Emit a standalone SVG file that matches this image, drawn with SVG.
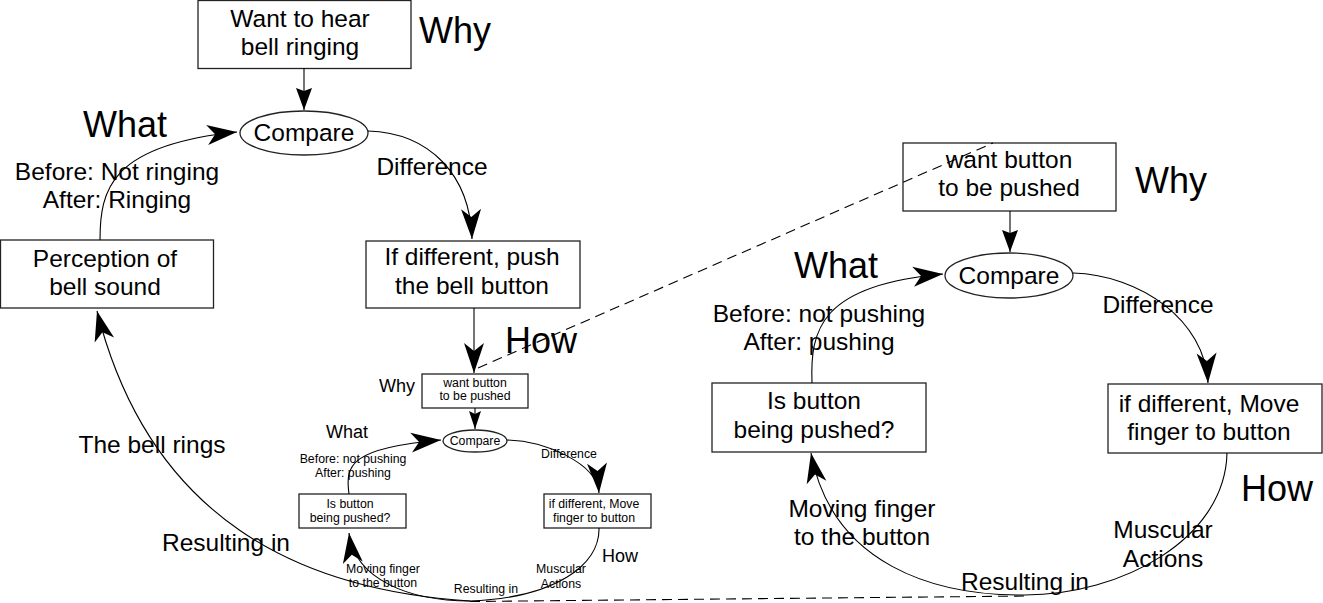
<svg xmlns="http://www.w3.org/2000/svg" width="1323" height="603" viewBox="0 0 1323 603">
<style>
text{font-family:"Liberation Sans",Arial,sans-serif;fill:#000}
.t{font-size:24.5px;text-anchor:middle}
.s{font-size:12.3px;text-anchor:middle}
.b{font-size:36px}
.m{font-size:18px}
.box{fill:#fff;stroke:#222;stroke-width:1.3}
.ln{fill:none;stroke:#000;stroke-width:1.1}
.ds{fill:none;stroke:#000;stroke-width:1.1;stroke-dasharray:10,6}
</style>
<defs>
<marker id="ah" markerUnits="userSpaceOnUse" orient="auto" markerWidth="34" markerHeight="26" viewBox="-32 -13 34 26" refX="0" refY="0" overflow="visible">
<path d="M0,0 L-30,-10 L-22,0 L-30,10 Z" fill="#000"/>
</marker>
<marker id="tri" markerUnits="userSpaceOnUse" orient="auto" markerWidth="34" markerHeight="26" viewBox="-32 -13 34 26" refX="0" refY="0" overflow="visible">
<path d="M0,0 L-22,-8 L-19,0 L-22,8 Z" fill="#000"/>
</marker>
<marker id="tris" markerUnits="userSpaceOnUse" orient="auto" markerWidth="34" markerHeight="26" viewBox="-32 -13 34 26" refX="0" refY="0" overflow="visible">
<path d="M0,0 L-18,-6 L-15,0 L-18,6 Z" fill="#000"/>
</marker>
</defs>

<g id="node-want-bell">
<rect class="box" x="198" y="0.5" width="213" height="68"/>
<text class="t" x="300" y="27">Want to hear</text>
<text class="t" x="300" y="55">bell ringing</text>
</g>
<g id="node-compare-1">
<ellipse class="box" cx="304" cy="133" rx="64" ry="22"/>
<text class="t" x="304" y="141">Compare</text>
</g>
<g id="node-perception">
<rect class="box" x="0.5" y="240" width="213" height="68"/>
<text class="t" x="105" y="267">Perception of</text>
<text class="t" x="105" y="295">bell sound</text>
</g>
<g id="node-push-bell">
<rect class="box" x="366" y="241" width="214" height="67"/>
<text class="t" x="472" y="265">If different, push</text>
<text class="t" x="472" y="294">the bell button</text>
</g>

<g id="node-want-push-small">
<rect class="box" x="422" y="374" width="106" height="34"/>
<text class="s" x="475" y="387">want button</text>
<text class="s" x="475" y="400">to be pushed</text>
</g>
<g id="node-compare-small">
<ellipse class="box" cx="475" cy="441" rx="32" ry="11"/>
<text class="s" x="475" y="445">Compare</text>
</g>
<g id="node-is-button-small">
<rect class="box" x="299" y="494" width="107" height="34"/>
<text class="s" x="350" y="508">Is button</text>
<text class="s" x="350" y="522">being pushed?</text>
</g>
<g id="node-move-small">
<rect class="box" x="544" y="494" width="107" height="34"/>
<text class="s" x="594" y="508">if different, Move</text>
<text class="s" x="594" y="522">finger to button</text>
</g>

<g id="node-want-push">
<rect class="box" x="903" y="143" width="213" height="68"/>
<text class="t" x="1009" y="168">want button</text>
<text class="t" x="1009" y="196">to be pushed</text>
</g>
<g id="node-compare-2">
<ellipse class="box" cx="1009" cy="275.5" rx="64" ry="22.5"/>
<text class="t" x="1009" y="284">Compare</text>
</g>
<g id="node-is-button">
<rect class="box" x="712" y="383" width="214" height="69"/>
<text class="t" x="814" y="409">Is button</text>
<text class="t" x="814" y="438">being pushed?</text>
</g>
<g id="node-move">
<rect class="box" x="1108" y="384" width="214" height="69"/>
<text class="t" x="1209" y="412">if different, Move</text>
<text class="t" x="1209" y="440">finger to button</text>
</g>

<g id="labels">
<text class="b" x="419" y="43">Why</text>
<text class="b" x="83" y="137">What</text>
<text class="t" x="117" y="180">Before: Not ringing</text>
<text class="t" x="117" y="208">After: Ringing</text>
<text class="t" x="432" y="175">Difference</text>
<text class="b" x="505" y="353">How</text>
<text class="t" x="152" y="453">The bell rings</text>
<text class="t" x="226" y="551">Resulting in</text>

<text class="m" x="379" y="392">Why</text>
<text class="m" x="326" y="438">What</text>
<text class="s" x="353" y="463">Before: not pushing</text>
<text class="s" x="353" y="477">After: pushing</text>
<text class="s" x="569" y="458">Difference</text>
<text class="m" x="602" y="562">How</text>
<text class="s" x="383" y="573">Moving finger</text>
<text class="s" x="383" y="587">to the button</text>
<text class="s" x="561" y="573">Muscular</text>
<text class="s" x="561" y="588">Actions</text>
<text class="s" x="486" y="593">Resulting in</text>

<text class="b" x="1135" y="193">Why</text>
<text class="b" x="794" y="278">What</text>
<text class="t" x="819" y="322">Before: not pushing</text>
<text class="t" x="819" y="350">After: pushing</text>
<text class="t" x="1158" y="313">Difference</text>
<text class="b" x="1241" y="501">How</text>
<text class="t" x="862" y="517">Moving finger</text>
<text class="t" x="862" y="545">to the button</text>
<text class="t" x="1163" y="538">Muscular</text>
<text class="t" x="1163" y="567">Actions</text>
<text class="t" x="1025" y="590">Resulting in</text>
</g>

<g id="connectors">
<path class="ln" d="M304,68 L304,110" marker-end="url(#tri)"/>
<path class="ln" d="M100,240 C100,190 110,145 237,132" marker-end="url(#ah)"/>
<path class="ln" d="M368,131 C430,133 470,175 472,239" marker-end="url(#ah)"/>
<path class="ln" d="M474,308 L474,373" marker-end="url(#ah)"/>
<path class="ln" d="M470,601 C300,590 150,520 97,311" marker-end="url(#ah)"/>

<path class="ln" d="M475,408 L475,429" marker-end="url(#tris)"/>
<path class="ln" d="M349,494 C345,465 350,448 441,440" marker-end="url(#ah)"/>
<path class="ln" d="M507,440 C545,441 597,463 599,493" marker-end="url(#ah)"/>
<path class="ln" d="M599,528 C600,565 555,598 470,601 C410,601 355,580 349,533" marker-end="url(#ah)"/>

<path class="ln" d="M1010,211 L1010,252" marker-end="url(#tri)"/>
<path class="ln" d="M812,383 C810,330 820,285 943,274" marker-end="url(#ah)"/>
<path class="ln" d="M1073,273 C1140,275 1205,320 1208,383" marker-end="url(#ah)"/>
<path class="ln" d="M1227,453 C1225,540 1120,595 1025,595 C935,596 832,565 811,453" marker-end="url(#ah)"/>

<path class="ds" d="M478,368 L993,143"/>
<path class="ds" d="M470,601.5 L1030,596"/>
</g>
</svg>
